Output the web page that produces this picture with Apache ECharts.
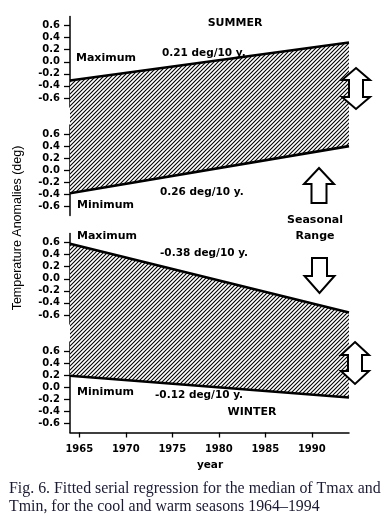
<!DOCTYPE html>
<html><head><meta charset="utf-8">
<script src="https://cdn.jsdelivr.net/npm/echarts@6/dist/echarts.min.js"></script>
<style>html,body{margin:0;padding:0;background:#fff}#c{width:387px;height:531px}</style>
</head><body><div id="c"></div>
<script>
// ---- data ----
const years = [1964, 1994];
const summerMax = [-0.31, 0.32];
const summerMin = [-0.38, 0.40];
const winterMax = [0.58, -0.56];
const winterMin = [0.19, -0.17];
const yTicks = [-0.6, -0.4, -0.2, 0, 0.2, 0.4, 0.6];
const xTicks = [1965, 1970, 1975, 1980, 1985, 1990];
const slopeLabels = ['0.21 deg/10 y.', '0.26 deg/10 y.', '-0.38 deg/10 y.', '-0.12 deg/10 y.'];
const yName = 'Temperature Anomalies (deg)';
const xName = 'year';
const caption = ['Fig. 6. Fitted serial regression for the median of Tmax and',
                 'Tmin, for the cool and warm seasons 1964\u20131994'];

// ---- hatch pattern ----
const tile = document.createElement('canvas'); tile.width = 4; tile.height = 4;
const g = tile.getContext('2d');
g.fillStyle = '#fff'; g.fillRect(0, 0, 4, 4);
g.strokeStyle = '#000'; g.lineWidth = 1.1;
g.beginPath();
g.moveTo(-1, 5); g.lineTo(5, -1);
g.moveTo(-3, 3); g.lineTo(3, -3);
g.moveTo(1, 7); g.lineTo(7, 1);
g.stroke();
const hatchFill = {image: tile, repeat: 'repeat'};

const chart = echarts.init(document.getElementById('c'), null, {renderer: 'canvas'});
const gridTops = [16.5, 125, 233.5, 342];
const gridH = 90.5;
const yMin = -0.75, yMax = 0.75;
const panels = [
  {vals: summerMax, origin: 'start'},
  {vals: summerMin, origin: 'end'},
  {vals: winterMax, origin: 'start'},
  {vals: winterMin, origin: 'end'}
];
const boldFont = 'DejaVu Sans';

const grids = [], xAxes = [], yAxes = [], series = [];
panels.forEach((p, i) => {
  grids.push({left: 70, right: 38, top: gridTops[i], height: gridH, outerBoundsMode: 'none', containLabel: false});
  const last = i === panels.length - 1;
  xAxes.push({
    type: 'value', gridIndex: i, min: years[0], max: years[years.length - 1],
    show: last,
    axisLine: {show: true, onZero: false, lineStyle: {color: '#000', width: 1.5}},
    axisTick: {show: true, inside: false, length: 5, customValues: xTicks, lineStyle: {color: '#000', width: 1.3}},
    axisLabel: {show: true, customValues: xTicks, margin: 12, color: '#000', fontFamily: boldFont, fontWeight: 'bold', fontSize: 10,
      formatter: v => String(Math.round(v))},
    splitLine: {show: false}
  });
  yAxes.push({
    type: 'value', gridIndex: i, min: yMin, max: yMax,
    axisLine: {show: true, onZero: false, lineStyle: {color: '#000', width: 1.5}},
    axisTick: {show: true, inside: false, length: 6, customValues: yTicks, lineStyle: {color: '#000', width: 1.3}},
    axisLabel: {show: true, customValues: yTicks, margin: 10, color: '#000', fontFamily: boldFont, fontWeight: 'bold', fontSize: 10,
      formatter: v => (Math.abs(v) < 1e-9 ? 0 : v).toFixed(1)},
    splitLine: {show: false}
  });
  series.push({
    type: 'line', xAxisIndex: i, yAxisIndex: i,
    data: years.map((y, k) => [y, p.vals[k]]),
    symbol: 'none', silent: true,
    lineStyle: {color: '#000', width: 2.6},
    itemStyle: {color: '#000'},
    areaStyle: {color: hatchFill, opacity: 1, origin: p.origin},
    z: 3
  });
});

chart.setOption({
  animation: false,
  backgroundColor: '#fff',
  grid: grids, xAxis: xAxes, yAxis: yAxes, series: series
});

// ---- annotations ----
function txt(text, x, y, opts) {
  opts = opts || {};
  return {type: 'text', z: 20, silent: true,
    x: x, y: y, rotation: opts.rotation || 0,
    style: {text: text, x: 0, y: 0,
      font: opts.font || ('bold 11px "' + boldFont + '"'),
      fill: opts.fill || '#000',
      textAlign: opts.align || 'left', align: opts.align || 'left',
      textVerticalAlign: 'middle', verticalAlign: 'middle'}};
}
function dblArrow(cx, top, bottom, hw, sw, hh) {
  const pts = [[cx, top], [cx + hw, top + hh], [cx + sw, top + hh], [cx + sw, bottom - hh], [cx + hw, bottom - hh],
    [cx, bottom], [cx - hw, bottom - hh], [cx - sw, bottom - hh], [cx - sw, top + hh], [cx - hw, top + hh]];
  return {type: 'polygon', z: 15, silent: true, shape: {points: pts}, style: {fill: '#fff', stroke: '#000', lineWidth: 2, lineJoin: 'miter'}};
}
function upArrow(cx, tip, bottom, hw, sw, hh) {
  const pts = [[cx, tip], [cx + hw, tip + hh], [cx + sw, tip + hh], [cx + sw, bottom], [cx - sw, bottom], [cx - sw, tip + hh], [cx - hw, tip + hh]];
  return {type: 'polygon', z: 15, silent: true, shape: {points: pts}, style: {fill: '#fff', stroke: '#000', lineWidth: 2}};
}
function downArrow(cx, top, tip, hw, sw, hh) {
  const pts = [[cx - sw, top], [cx + sw, top], [cx + sw, tip - hh], [cx + hw, tip - hh], [cx, tip], [cx - hw, tip - hh], [cx - sw, tip - hh]];
  return {type: 'polygon', z: 15, silent: true, shape: {points: pts}, style: {fill: '#fff', stroke: '#000', lineWidth: 2}};
}
function gapRect(gTop, gBot) {
  const a = chart.convertToPixel({gridIndex: gTop}, [years[0], yMin]);
  const b = chart.convertToPixel({gridIndex: gBot}, [years[years.length - 1], yMax]);
  return {type: 'rect', z: 1, silent: true, shape: {x: a[0], y: a[1], width: b[0] - a[0], height: b[1] - a[1]}, style: {fill: hatchFill}};
}

const capFont = '15.9px "Liberation Serif"';
const graphics = [
  gapRect(0, 1), gapRect(2, 3),
  txt('SUMMER', 235, 23.5, {align: 'center'}),
  txt('Maximum', 76, 58),
  txt(slopeLabels[0], 162, 53, {font: 'bold 10.5px "' + boldFont + '"'}),
  txt(slopeLabels[1], 160, 192.5, {font: 'bold 10.5px "' + boldFont + '"'}),
  txt('Minimum', 77, 205),
  txt('Seasonal', 315, 220, {align: 'center'}),
  txt('Range', 315, 236, {align: 'center'}),
  txt('Maximum', 77, 236.5),
  txt(slopeLabels[2], 160, 253.5, {font: 'bold 10.5px "' + boldFont + '"'}),
  txt('Minimum', 77, 392.5),
  txt(slopeLabels[3], 155, 395.5, {font: 'bold 10.5px "' + boldFont + '"'}),
  txt('WINTER', 252, 412, {align: 'center'}),
  txt(xName, 210, 465, {align: 'center', font: 'bold 10.5px "' + boldFont + '"'}),
  txt(yName, 18, 228, {align: 'center', rotation: Math.PI / 2, font: '12.5px "Liberation Sans"'}),
  txt(caption[0], 9, 489, {font: capFont, fill: '#1a1a33'}),
  txt(caption[1], 9, 507, {font: capFont, fill: '#1a1a33'}),
  dblArrow(356, 68, 109, 14, 7, 12),
  upArrow(319, 168, 203, 15, 7.5, 16),
  downArrow(319.5, 258, 293, 15, 7.5, 17),
  dblArrow(355, 342, 384, 14, 7, 13)
];
chart.setOption({graphic: graphics});
</script>
</body></html>
